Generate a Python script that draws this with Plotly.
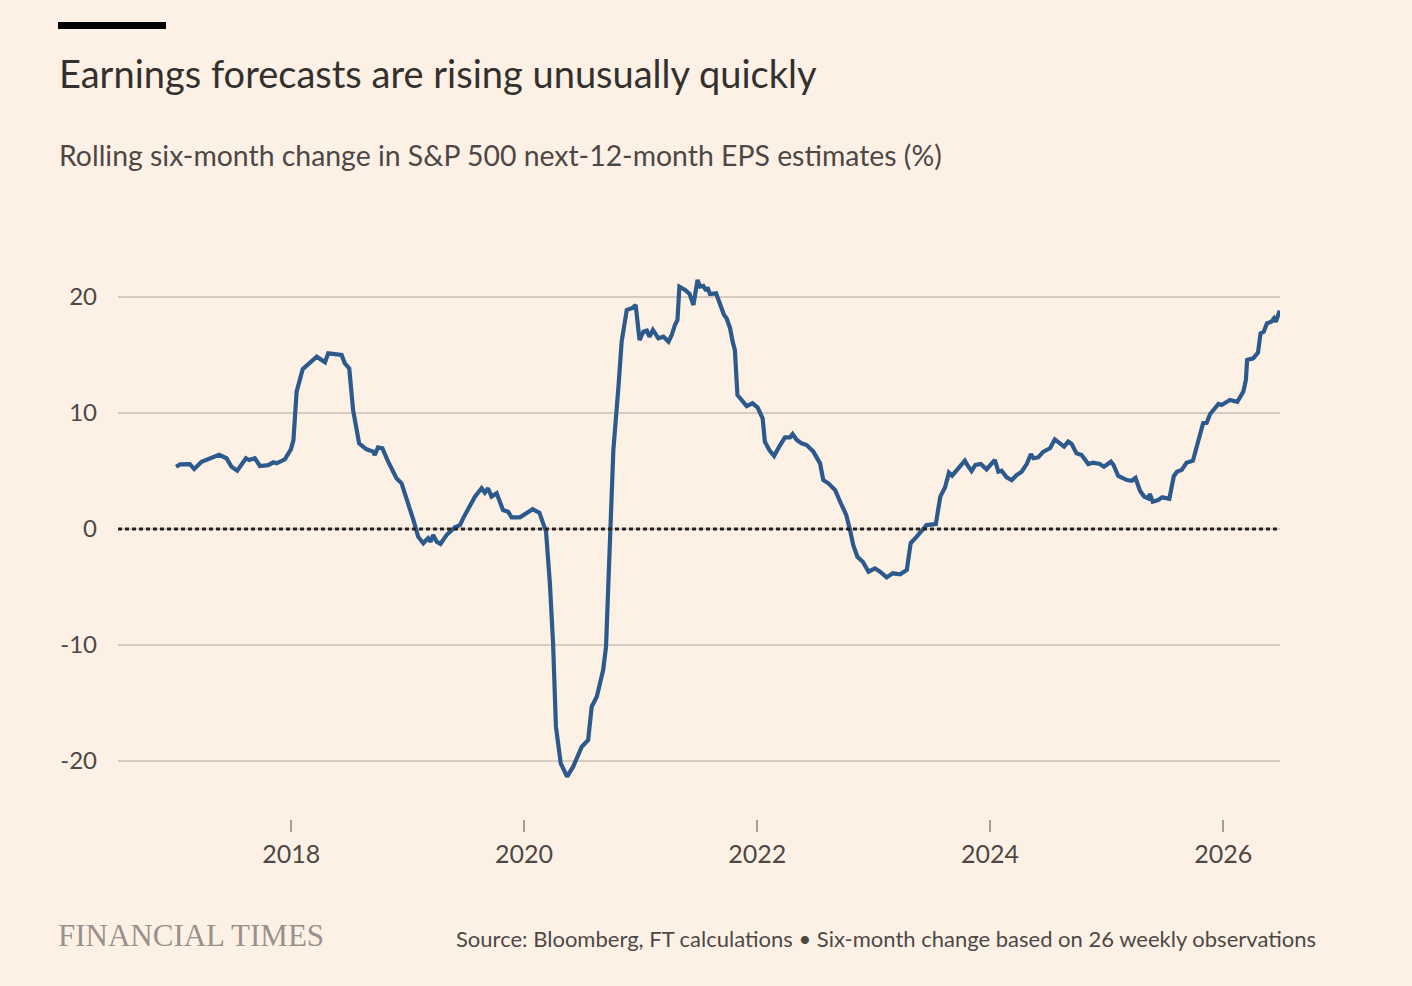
import plotly.graph_objects as go

# ---- data ----
dates = [
    "2017-01-05", "2017-01-18", "2017-02-17", "2017-03-03", "2017-03-26", "2017-04-21",
    "2017-05-20", "2017-06-12", "2017-06-28", "2017-07-16", "2017-08-12", "2017-08-22",
    "2017-09-09", "2017-09-25", "2017-10-21", "2017-11-06", "2017-11-16", "2017-12-12",
    "2017-12-31", "2018-01-08", "2018-01-18", "2018-02-06", "2018-03-01", "2018-03-22",
    "2018-04-17", "2018-04-27", "2018-06-08", "2018-06-18", "2018-07-02", "2018-07-14",
    "2018-08-02", "2018-08-25", "2018-09-15", "2018-09-20", "2018-09-30", "2018-10-14",
    "2018-11-01", "2018-11-27", "2018-12-13", "2018-12-29", "2019-01-19", "2019-02-03",
    "2019-02-19", "2019-03-06", "2019-03-14", "2019-03-22", "2019-04-02", "2019-04-14",
    "2019-05-03", "2019-05-29", "2019-06-14", "2019-06-24", "2019-07-15", "2019-07-31",
    "2019-08-21", "2019-08-31", "2019-09-10", "2019-09-21", "2019-10-07", "2019-10-27",
    "2019-11-12", "2019-11-23", "2019-12-19", "2020-01-09", "2020-01-28", "2020-02-18",
    "2020-03-01", "2020-03-10", "2020-03-22", "2020-04-01", "2020-04-10", "2020-04-25",
    "2020-05-15", "2020-06-03", "2020-06-30", "2020-07-20", "2020-07-31", "2020-08-16",
    "2020-09-05", "2020-09-14", "2020-09-21", "2020-10-02", "2020-10-07", "2020-10-23",
    "2020-11-02", "2020-11-18", "2020-12-04", "2020-12-16", "2020-12-28", "2021-01-09",
    "2021-01-20", "2021-01-28", "2021-02-08", "2021-02-25", "2021-03-13", "2021-03-29",
    "2021-04-08", "2021-04-18", "2021-04-26", "2021-05-02", "2021-05-20", "2021-06-03",
    "2021-06-15", "2021-06-28", "2021-07-06", "2021-07-16", "2021-07-25", "2021-07-29",
    "2021-08-06", "2021-08-25", "2021-09-06", "2021-09-19", "2021-09-27", "2021-10-08",
    "2021-10-16", "2021-10-23", "2021-10-31", "2021-11-13", "2021-11-29", "2021-12-17",
    "2022-01-02", "2022-01-18", "2022-01-25", "2022-02-08", "2022-02-23", "2022-03-11",
    "2022-03-29", "2022-04-14", "2022-04-22", "2022-05-05", "2022-05-20", "2022-06-05",
    "2022-06-26", "2022-07-17", "2022-07-27", "2022-08-12", "2022-09-02", "2022-09-18",
    "2022-10-07", "2022-10-19", "2022-10-29", "2022-11-11", "2022-11-28", "2022-12-16",
    "2023-01-05", "2023-01-21", "2023-02-11", "2023-03-02", "2023-03-25", "2023-04-15",
    "2023-04-27", "2023-05-16", "2023-06-01", "2023-06-16", "2023-07-15", "2023-07-29",
    "2023-08-13", "2023-08-25", "2023-09-04", "2023-10-14", "2023-10-25", "2023-11-04",
    "2023-11-16", "2023-12-03", "2023-12-21", "2024-01-16", "2024-01-27", "2024-02-06",
    "2024-02-22", "2024-03-09", "2024-03-25", "2024-04-09", "2024-04-25", "2024-05-08",
    "2024-05-16", "2024-05-31", "2024-06-16", "2024-07-07", "2024-07-22", "2024-08-05",
    "2024-08-20", "2024-09-02", "2024-09-13", "2024-09-28", "2024-10-14", "2024-11-04",
    "2024-11-19", "2024-12-10", "2024-12-23", "2025-01-14", "2025-01-22", "2025-02-06",
    "2025-03-05", "2025-03-20", "2025-04-01", "2025-04-15", "2025-04-28", "2025-05-11",
    "2025-05-16", "2025-05-25", "2025-06-11", "2025-06-24", "2025-07-16", "2025-07-30",
    "2025-08-09", "2025-08-24", "2025-09-08", "2025-09-28", "2025-10-14", "2025-10-30",
    "2025-11-10", "2025-11-21", "2025-12-17", "2025-12-27", "2026-01-22", "2026-02-14",
    "2026-03-05", "2026-03-13", "2026-03-17", "2026-04-05", "2026-04-20", "2026-04-28",
    "2026-05-08", "2026-05-18", "2026-06-01", "2026-06-09", "2026-06-15", "2026-06-22",
    "2026-06-27",
]

eps_change = [
    5.37, 5.57, 5.60, 5.17, 5.80, 6.10,
    6.40, 6.10, 5.37, 5.03, 6.10, 5.95,
    6.10, 5.43, 5.50, 5.75, 5.66, 6.00,
    6.87, 7.67, 11.84, 13.77, 14.28, 14.85,
    14.37, 15.14, 15.00, 14.28, 13.85, 10.26,
    7.39, 6.87, 6.67, 6.38, 7.04, 6.95,
    5.80, 4.37, 3.94, 2.64, 0.78, -0.66,
    -1.23, -0.80, -1.09, -0.52, -1.09, -1.29,
    -0.52, 0.14, 0.34, 0.92, 2.07, 2.79,
    3.51, 3.13, 3.51, 2.79, 3.08, 1.64,
    1.49, 1.01, 1.01, 1.41, 1.70, 1.41,
    0.49, -0.23, -4.68, -9.85, -17.04, -20.20,
    -21.35, -20.49, -18.77, -18.19, -15.32, -14.46,
    -12.16, -10.15, -4.97, 2.50, 6.81, 12.27,
    16.15, 18.88, 19.03, 19.31, 16.29, 17.01,
    17.10, 16.58, 17.16, 16.44, 16.58, 16.15,
    16.72, 17.59, 18.02, 20.89, 20.60, 20.26,
    19.31, 21.47, 20.89, 20.95, 20.54, 20.83,
    20.26, 20.32, 19.46, 18.45, 18.16, 17.30,
    16.15, 15.43, 11.55, 11.12, 10.60, 10.84,
    10.49, 9.54, 7.53, 6.81, 6.29, 7.10,
    7.90, 7.90, 8.19, 7.67, 7.39, 7.24,
    6.67, 5.66, 4.22, 3.94, 3.36, 2.35,
    1.21, -0.09, -1.38, -2.39, -2.82, -3.68,
    -3.39, -3.68, -4.17, -3.82, -3.91, -3.53,
    -1.23, -0.66, -0.09, 0.34, 0.43, 2.79,
    3.60, 4.86, 4.60, 5.89, 5.37, 5.00,
    5.52, 5.60, 5.14, 5.95, 4.94, 5.03,
    4.46, 4.22, 4.66, 4.94, 5.60, 6.47,
    6.10, 6.18, 6.67, 6.96, 7.73, 7.44,
    7.10, 7.53, 7.33, 6.52, 6.38, 5.60,
    5.72, 5.60, 5.37, 5.80, 5.52, 4.57,
    4.22, 4.16, 4.40, 3.30, 2.80, 2.64,
    3.02, 2.35, 2.50, 2.73, 2.60, 4.55,
    4.94, 5.10, 5.70, 5.89, 7.50, 9.13,
    9.16, 9.91, 10.78, 10.69, 11.12, 10.97,
    11.84, 12.84, 14.57, 14.71, 15.20, 16.87,
    17.01, 17.73, 17.87, 18.16, 17.87, 18.45,
    18.82,
]

y_ticks = [-20, -10, 0, 10, 20]
y_tick_labels = ["-20", "-10", "0", "10", "20"]

title_text = "Earnings forecasts are rising unusually quickly"
subtitle_text = "Rolling six-month change in S&P 500 next-12-month EPS estimates (%)"
source_text = "Source: Bloomberg, FT calculations \u2022 Six-month change based on 26 weekly observations"
brand_text = "FINANCIAL TIMES"

# ---- styling ----
BG = "#FDF1E6"
LINE = "#2C5A8C"
GRID = "#D5CBC1"
TEXT = "#33302E"
FONT = "Lato"

W, H = 1412, 986
M_L, M_R, M_T, M_B = 118, 132, 239, 167
PW, PH = W - M_L - M_R, H - M_T - M_B


def px_x(px):
    return (px - M_L) / PW


def px_y(py):
    return (H - M_B - py) / PH


fig = go.Figure()

# dotted baseline at zero (drawn first so the data line sits on top)
fig.add_shape(type="line", xref="paper", yref="y", x0=0, x1=1, y0=y_ticks[2], y1=y_ticks[2],
              line=dict(color="#262220", width=3, dash="4px,3px"), layer="above")

fig.add_trace(go.Scatter(
    x=dates, y=eps_change, mode="lines",
    line=dict(color=LINE, width=4.2, shape="linear"),
    hoverinfo="skip", showlegend=False,
))

fig.update_layout(
    width=W, height=H,
    margin=dict(l=M_L, r=M_R, t=M_T, b=M_B, pad=0),
    paper_bgcolor=BG, plot_bgcolor=BG,
    font=dict(family=FONT, color=TEXT),
    showlegend=False,
    xaxis=dict(
        type="date",
        range=["2016-07-07", "2026-06-28"],
        tick0="2018-01-01", dtick="M24", tickformat="%Y",
        showgrid=False, zeroline=False, showline=False,
        ticks="outside", ticklen=12, tickwidth=1.5, tickcolor="#A79E96",
        tickfont=dict(size=25, color="#4D4845", family=FONT),
        ticklabelstandoff=1,
    ),
    yaxis=dict(
        range=[-25, 25],
        tickmode="array", tickvals=y_ticks, ticktext=y_tick_labels,
        showgrid=True, gridcolor=GRID, gridwidth=1.5,
        zeroline=False, showline=False, ticks="",
        tickfont=dict(size=24, color="#4D4845", family=FONT),
        ticklabelstandoff=20,
    ),
)

# black bar top-left
fig.add_shape(type="rect", xref="paper", yref="paper",
              x0=px_x(58), x1=px_x(166), y0=px_y(29), y1=px_y(22),
              fillcolor="#000000", line=dict(width=0))

fig.add_annotation(text=title_text, xref="paper", yref="paper",
                   x=px_x(57), y=px_y(73), xanchor="left", yanchor="middle",
                   showarrow=False, font=dict(size=38, color=TEXT, family=FONT))
fig.add_annotation(text=subtitle_text, xref="paper", yref="paper",
                   x=px_x(57), y=px_y(155), xanchor="left", yanchor="middle",
                   showarrow=False, font=dict(size=28.4, color="#4D4845", family=FONT))
fig.add_annotation(text=brand_text, xref="paper", yref="paper",
                   x=px_x(56), y=px_y(935), xanchor="left", yanchor="middle",
                   showarrow=False,
                   font=dict(size=31, color="#9A918A", family="Liberation Serif"))
fig.add_annotation(text=source_text, xref="paper", yref="paper",
                   x=px_x(1318), y=px_y(938), xanchor="right", yanchor="middle",
                   showarrow=False, font=dict(size=22, color="#4D4845", family=FONT))

fig.write_html("out.html")
